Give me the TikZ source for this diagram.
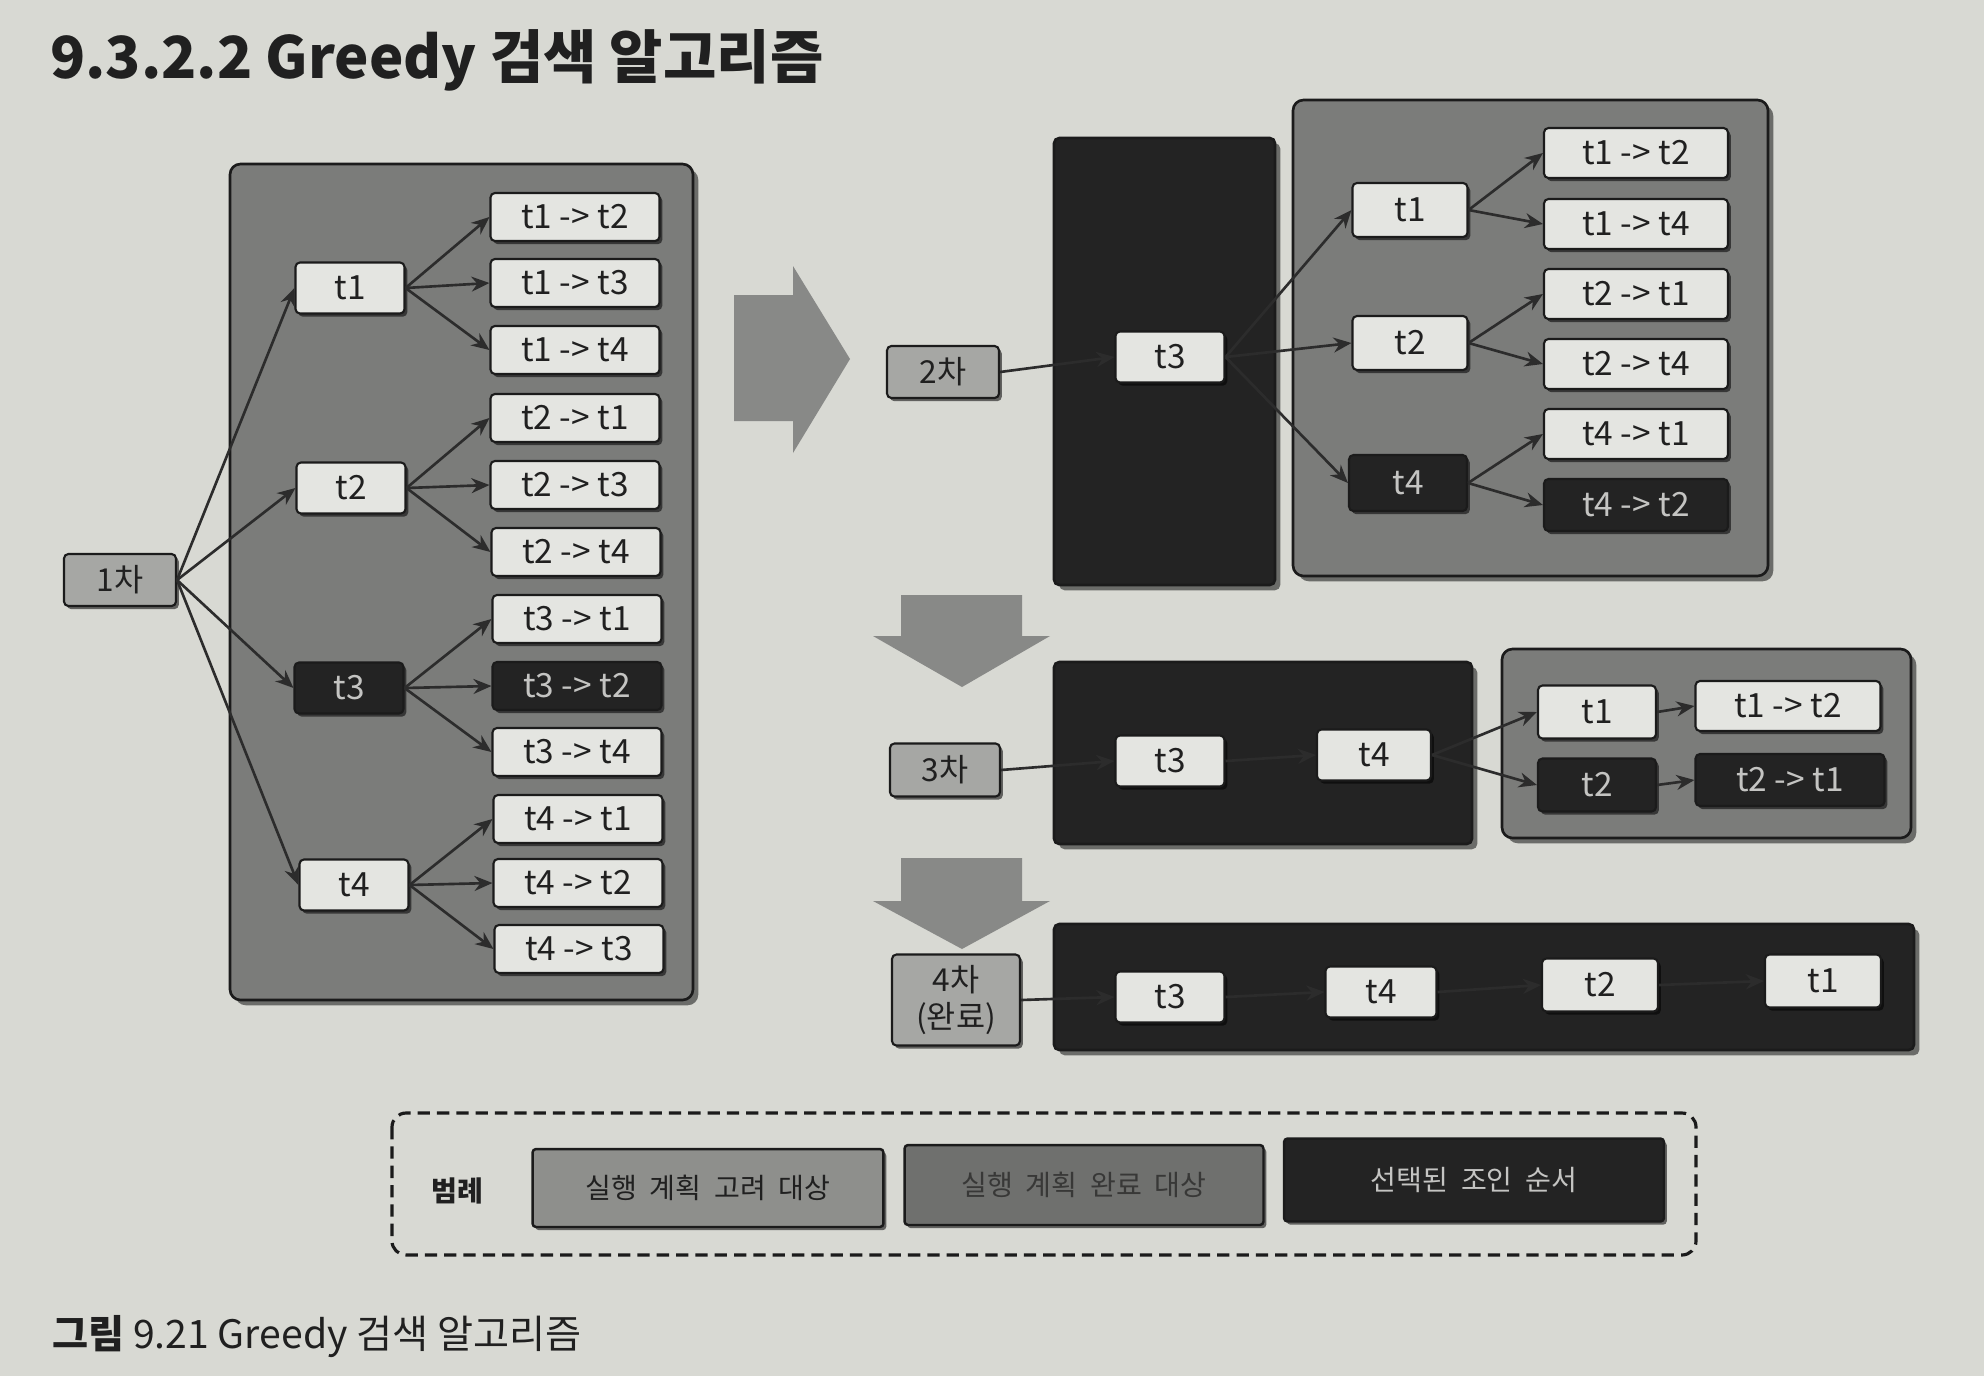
\documentclass[tikz,border=0pt]{standalone}
\usepackage{fontspec}
\setmainfont{Noto Sans CJK KR}
\usepackage{tikz}
\usetikzlibrary{arrows.meta,shadows}
\definecolor{page}{HTML}{D8D9D3}
\definecolor{boxlight}{HTML}{E4E5E1}
\definecolor{panelgrey}{HTML}{7B7C7A}
\definecolor{stagegrey}{HTML}{A6A7A4}
\definecolor{selblack}{HTML}{232323}
\definecolor{edge}{HTML}{1B1B1B}
\definecolor{ink}{HTML}{202020}
\definecolor{inklight}{HTML}{C4C4C2}
\definecolor{wire}{HTML}{2C2C2C}
\definecolor{bigarrow}{HTML}{888987}
\definecolor{legendone}{HTML}{8E8F8C}
\definecolor{legendtwo}{HTML}{6F706E}

\begin{document}
\begin{tikzpicture}[x=0.02cm, y=-0.02cm, every node/.style={font=\fontsize{19}{22}\selectfont}, >={Stealth[length=3.6mm,width=3mm]},
	shade/.style={drop shadow={shadow xshift=1.6pt, shadow yshift=-1.8pt, opacity=.55, fill=black}},
	tbox/.style={draw=edge, line width=1.2pt, rounded corners=2.5pt, fill=boxlight, text=ink, inner sep=0pt, minimum width=2.18cm, minimum height=1.02cm, shade},
	tsel/.style={tbox, fill=selblack, text=inklight},
	pbox/.style={tbox, minimum width=3.38cm, minimum height=0.96cm},
	psel/.style={pbox, fill=selblack, text=inklight},
	stage/.style={tbox, fill=stagegrey, minimum width=2.24cm, minimum height=1.04cm, font=\fontsize{18}{21}\selectfont},
	panel/.style={draw=edge, line width=1.5pt, rounded corners=6pt, fill=panelgrey, drop shadow={shadow xshift=3pt, shadow yshift=-3pt, opacity=.5, fill=black}},
	blackpanel/.style={panel, fill=selblack, rounded corners=3pt},
	conn/.style={->, draw=wire, line width=1.5pt},
	legendbox/.style={draw=edge, line width=1.4pt, rounded corners=2pt, inner sep=0pt, minimum height=1.56cm, font=\fontsize{16}{19}\selectfont, shade}]
	\useasboundingbox (0,0) rectangle (1984,1376);
	\fill[page] (0,0) rectangle (1984,1376);
	\node[anchor=west, text=ink, font=\fontsize{33}{40}\selectfont\bfseries] (title) at (44,60) {9.3.2.2 Greedy 검색 알고리즘};

	\filldraw[panel] (230,164) rectangle (693,1000);
	\node[stage] (s1) at (120,580) {1차};
	\node[tbox] (a1) at (350,288) {t1};
	\node[tbox] (a2) at (351,488) {t2};
	\node[tsel] (a3) at (349,688) {t3};
	\node[tbox] (a4) at (354,885) {t4};
	\node[pbox] (a12) at (575,217) {t1 -> t2};
	\node[pbox] (a13) at (575,283) {t1 -> t3};
	\node[pbox] (a14) at (575,350) {t1 -> t4};
	\node[pbox] (a21) at (575,418) {t2 -> t1};
	\node[pbox] (a23) at (575,485) {t2 -> t3};
	\node[pbox] (a24) at (576,552) {t2 -> t4};
	\node[pbox] (a31) at (577,619) {t3 -> t1};
	\node[psel] (a32) at (577,686) {t3 -> t2};
	\node[pbox] (a34) at (577,752) {t3 -> t4};
	\node[pbox] (a41) at (578,819) {t4 -> t1};
	\node[pbox] (a42) at (578,883) {t4 -> t2};
	\node[pbox] (a43) at (579,949) {t4 -> t3};
	\draw[conn] (s1.east) -- (a1.west);
	\draw[conn] (s1.east) -- (a2.west);
	\draw[conn] (s1.east) -- (a3.west);
	\draw[conn] (s1.east) -- (a4.west);
	\draw[conn] (a1.east) -- (a12.west);
	\draw[conn] (a1.east) -- (a13.west);
	\draw[conn] (a1.east) -- (a14.west);
	\draw[conn] (a2.east) -- (a21.west);
	\draw[conn] (a2.east) -- (a23.west);
	\draw[conn] (a2.east) -- (a24.west);
	\draw[conn] (a3.east) -- (a31.west);
	\draw[conn] (a3.east) -- (a32.west);
	\draw[conn] (a3.east) -- (a34.west);
	\draw[conn] (a4.east) -- (a41.west);
	\draw[conn] (a4.east) -- (a42.west);
	\draw[conn] (a4.east) -- (a43.west);

	\fill[bigarrow] (734,295) -- (793,295) -- (793,266) -- (850,359) -- (793,453) -- (793,421) -- (734,421) -- cycle;

	\filldraw[blackpanel] (1054,138) rectangle (1275,585);
	\filldraw[panel] (1293,100) rectangle (1768,576);
	\node[stage] (s2) at (943,372) {2차};
	\node[tbox] (b3) at (1170,357) {t3};
	\node[tbox, minimum width=2.3cm, minimum height=1.08cm] (b1) at (1410,210) {t1};
	\node[tbox, minimum width=2.3cm, minimum height=1.08cm] (b2) at (1410,343) {t2};
	\node[tsel, minimum width=2.36cm, minimum height=1.12cm] (b4) at (1408,483) {t4};
	\node[pbox, minimum width=3.68cm, minimum height=1cm] (b12) at (1636,153) {t1 -> t2};
	\node[pbox, minimum width=3.68cm, minimum height=1cm] (b14) at (1636,224) {t1 -> t4};
	\node[pbox, minimum width=3.68cm, minimum height=1cm] (b21) at (1636,294) {t2 -> t1};
	\node[pbox, minimum width=3.68cm, minimum height=1cm] (b24) at (1636,364) {t2 -> t4};
	\node[pbox, minimum width=3.68cm, minimum height=1cm] (b41) at (1636,434) {t4 -> t1};
	\node[psel, minimum width=3.68cm, minimum height=1.04cm] (b42) at (1636,505) {t4 -> t2};
	\draw[conn] (s2.east) -- (b3.west);
	\draw[conn] (b3.east) -- (b1.west);
	\draw[conn] (b3.east) -- (b2.west);
	\draw[conn] (b3.east) -- (b4.west);
	\draw[conn] (b1.east) -- (b12.west);
	\draw[conn] (b1.east) -- (b14.west);
	\draw[conn] (b2.east) -- (b21.west);
	\draw[conn] (b2.east) -- (b24.west);
	\draw[conn] (b4.east) -- (b41.west);
	\draw[conn] (b4.east) -- (b42.west);

	\fill[bigarrow] (901,595) -- (1022,595) -- (1022,636) -- (1050,636) -- (962,687) -- (873,636) -- (901,636) -- cycle;

	\filldraw[blackpanel] (1054,662) rectangle (1472,844);
	\filldraw[panel] (1502,649) rectangle (1911,838);
	\node[stage, minimum width=2.2cm, minimum height=1.06cm] (s3) at (945,770) {3차};
	\node[tbox] (c3) at (1170,761) {t3};
	\node[tbox, minimum width=2.28cm] (c4) at (1374,755) {t4};
	\node[tbox, minimum width=2.36cm, minimum height=1.06cm] (c1) at (1597,712) {t1};
	\node[tsel, minimum width=2.36cm, minimum height=1.06cm] (c2) at (1597,785) {t2};
	\node[pbox, minimum width=3.7cm, minimum height=1cm] (c12) at (1788,706) {t1 -> t2};
	\node[psel, minimum width=3.78cm, minimum height=1.04cm] (c21) at (1790,780) {t2 -> t1};
	\draw[conn] (s3.east) -- (c3.west);
	\draw[conn] (c3.east) -- (c4.west);
	\draw[conn] (c4.east) -- (c1.west);
	\draw[conn] (c4.east) -- (c2.west);
	\draw[conn] (c1.east) -- (c12.west);
	\draw[conn] (c2.east) -- (c21.west);

	\fill[bigarrow] (901,858) -- (1022,858) -- (1022,901) -- (1050,901) -- (962,949) -- (873,901) -- (901,901) -- cycle;

	\filldraw[blackpanel] (1054,924) rectangle (1914,1050);
	\node[stage, minimum width=2.56cm, minimum height=1.82cm, align=center] (s4) at (956,1000) {4차\\(완료)};
	\node[tbox] (d3) at (1170,997) {t3};
	\node[tbox, minimum width=2.22cm] (d4) at (1381,992) {t4};
	\node[tbox, minimum width=2.32cm, minimum height=1.06cm] (d2) at (1600,985) {t2};
	\node[tbox, minimum width=2.32cm, minimum height=1.06cm] (d1) at (1823,981) {t1};
	\draw[conn] (s4.east) -- (d3.west);
	\draw[conn] (d3.east) -- (d4.west);
	\draw[conn] (d4.east) -- (d2.west);
	\draw[conn] (d2.east) -- (d1.west);

	\draw[edge, line width=1.8pt, rounded corners=8pt, dash pattern=on 7pt off 4pt] (392,1113) rectangle (1696,1255);
	\node[text=ink, font=\fontsize{16}{19}\selectfont\bfseries] (legendtitle) at (457,1191) {범례};
	\node[legendbox, fill=legendone, text=ink, minimum width=7.02cm] (lg1) at (708,1188) {실행\ \ 계획\ \ 고려\ \ 대상};
	\node[legendbox, fill=legendtwo, text=ink!70!legendtwo, minimum width=7.18cm, minimum height=1.6cm] (lg2) at (1084,1185) {실행\ \ 계획\ \ 완료\ \ 대상};
	\node[legendbox, fill=selblack, text=inklight, minimum width=7.6cm, minimum height=1.66cm] (lg3) at (1474,1180) {선택된\ \ 조인\ \ 순서};

	\node[anchor=west, text=ink, font=\fontsize{22.3}{26}\selectfont] (caption) at (46,1337) {\textbf{그림} 9.21 Greedy 검색 알고리즘};
\end{tikzpicture}
\end{document}
